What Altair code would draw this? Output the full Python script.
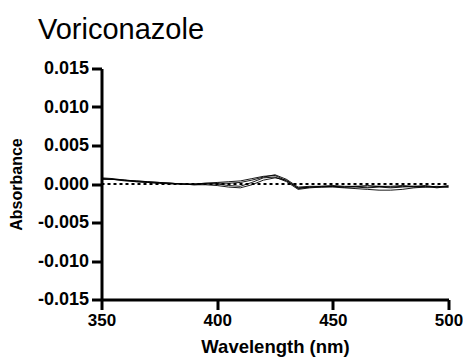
import altair as alt
import pandas as pd

wavelength = [350, 355, 360, 365, 370, 375, 380, 385, 390, 395, 400, 405, 410, 415, 420, 425,
              430, 435, 440, 445, 450, 455, 460, 465, 470, 475, 480, 485, 490, 495, 500]
run1 = [0.0007, 0.0006, 0.0005, 0.0004, 0.0003, 0.0002, 0.0001, 0.0000, 0.0000, 0.0001, 0.0002,
        0.0003, 0.0004, 0.0007, 0.0010, 0.0011, 0.0004, -0.0005, -0.0004, -0.0004, -0.0003, -0.0004,
        -0.0003, -0.0004, -0.0003, -0.0004, -0.0003, -0.0004, -0.0003, -0.0005, -0.0003]
run2 = [0.0006, 0.0006, 0.0004, 0.0003, 0.0002, 0.0001, 0.0000, 0.0000, -0.0001, 0.0000, 0.0000,
        -0.0002, -0.0003, 0.0002, 0.0008, 0.0009, 0.0003, -0.0007, -0.0005, -0.0004, -0.0004, -0.0005,
        -0.0006, -0.0007, -0.0008, -0.0008, -0.0007, -0.0005, -0.0004, -0.0004, -0.0004]
run3 = [0.0008, 0.0007, 0.0005, 0.0004, 0.0003, 0.0002, 0.0001, 0.0000, -0.0001, -0.0001, -0.0002,
        -0.0004, -0.0005, -0.0001, 0.0005, 0.0008, 0.0005, -0.0006, -0.0004, -0.0003, -0.0003, -0.0004,
        -0.0004, -0.0005, -0.0004, -0.0005, -0.0004, -0.0003, -0.0004, -0.0003, -0.0004]
run4 = [0.0007, 0.0006, 0.0005, 0.0003, 0.0002, 0.0001, 0.0001, 0.0000, 0.0000, 0.0001, 0.0001,
        0.0001, 0.0002, 0.0005, 0.0009, 0.0012, 0.0006, -0.0004, -0.0003, -0.0003, -0.0002, -0.0003,
        -0.0003, -0.0002, -0.0003, -0.0003, -0.0002, -0.0003, -0.0002, -0.0004, -0.0002]

rows = []
for name, vals in [("1", run1), ("2", run2), ("3", run3), ("4", run4)]:
    for w, v in zip(wavelength, vals):
        rows.append({"Wavelength": w, "Absorbance": v, "run": name})
df = pd.DataFrame(rows)

zero = pd.DataFrame({"Wavelength": [350], "W2": [500], "Absorbance": [0.0]})

font = "Liberation Sans"

xscale = alt.Scale(domain=[350, 500], nice=False, zero=False)
yscale = alt.Scale(domain=[-0.015, 0.015], nice=False, zero=False)

xaxis = alt.Axis(title="Wavelength (nm)", values=[350, 400, 450, 500], format="d",
                 titlePadding=9, labelOverlap=False, labelFlush=False, labelPadding=3,
                 labelFontSize=17, titleFontSize=18.5)
yaxis = alt.Axis(title="Absorbance", values=[-0.015, -0.01, -0.005, 0, 0.005, 0.01, 0.015],
                 labelExpr="replace(format(datum.value, '.3f'), '\u2212', '-')",
                 labelOverlap=False, labelFlush=False, titlePadding=13, labelPadding=3,
                 labelFontSize=18, titleFontSize=16)

lines = alt.Chart(df).mark_line(color="black", strokeWidth=0.9).encode(
    x=alt.X("Wavelength:Q", scale=xscale, axis=xaxis),
    y=alt.Y("Absorbance:Q", scale=yscale, axis=yaxis),
    detail="run:N",
)

rule = alt.Chart(zero).mark_rule(color="black", strokeDash=[3, 3], strokeWidth=1.8).encode(
    x=alt.X("Wavelength:Q", scale=xscale, axis=xaxis),
    x2="W2:Q",
    y=alt.Y("Absorbance:Q", scale=yscale, axis=yaxis),
)

chart = (rule + lines).properties(
    width=347, height=231,
    title=alt.TitleParams("Voriconazole", anchor="start", frame="group", dx=-63.5,
                          font=font, fontSize=29, fontWeight="normal", offset=15),
    autosize=alt.AutoSizeParams(type="none"),
    padding={"left": 101.5, "top": 68.5, "right": 14, "bottom": 64},
).configure_view(stroke=None).configure_axis(
    grid=False, domainColor="black", domainWidth=3, tickColor="black", tickWidth=3, tickSize=10,
    labelFont=font, labelFontWeight="bold", labelColor="black",
    titleFont=font, titleFontWeight="bold", titleColor="black",
)

chart.save("out.html", embed_options={"renderer": "svg", "actions": False})
